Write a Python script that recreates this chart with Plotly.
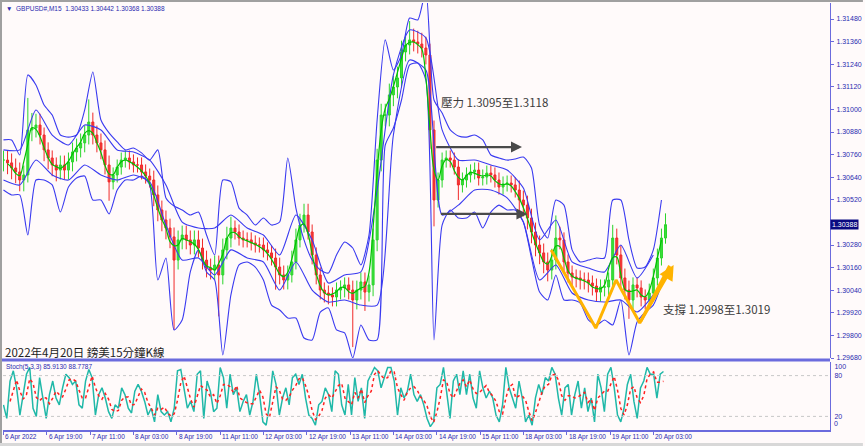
import numpy as np
import plotly.graph_objects as go

# ---------------- data ----------------
BAR_STEP = 6          # M15 bars between plotted candles
PIP = 0.0001
closes = [
    1.30731, 1.30716, 1.30689, 1.30668, 1.30625, 1.30652, 1.30891, 1.30901, 1.30917, 1.30864,
    1.30785, 1.30742, 1.30705, 1.30678, 1.30705, 1.30678, 1.30721, 1.30774, 1.30795, 1.30822,
    1.30864, 1.30933, 1.30864, 1.30822, 1.30785, 1.30705, 1.30615, 1.30652, 1.30694, 1.30731,
    1.30742, 1.30721, 1.30705, 1.30705, 1.30668, 1.30646, 1.30625, 1.30546, 1.30466, 1.30413,
    1.30370, 1.30323, 1.30200, 1.30307, 1.30333, 1.30307, 1.30280, 1.30307, 1.30264, 1.30200,
    1.30158, 1.30147, 1.30174, 1.30121, 1.30254, 1.30317, 1.30370, 1.30349, 1.30317, 1.30307,
    1.30307, 1.30291, 1.30280, 1.30280, 1.30254, 1.30238, 1.30211, 1.30163, 1.30121, 1.30094,
    1.30121, 1.30190, 1.30307, 1.30386, 1.30439, 1.30349, 1.30227, 1.30121, 1.30041, 1.30025,
    1.30015, 1.30004, 1.30041, 1.30052, 1.30068, 1.30041, 1.29988, 1.30041, 1.30084, 1.30030,
    1.30068, 1.30307, 1.30731, 1.30970, 1.30970, 1.31077, 1.31119, 1.31167, 1.31305, 1.31342,
    1.31369, 1.31358, 1.31347, 1.31326, 1.31289, 1.30891, 1.30519, 1.30625, 1.30731, 1.30742,
    1.30731, 1.30694, 1.30599, 1.30625, 1.30652, 1.30668, 1.30678, 1.30636, 1.30641, 1.30662,
    1.30652, 1.30625, 1.30588, 1.30604, 1.30609, 1.30599, 1.30572, 1.30519, 1.30492, 1.30423,
    1.30349, 1.30280, 1.30238, 1.30190, 1.30147, 1.30200, 1.30317, 1.30307, 1.30190, 1.30131,
    1.30110, 1.30105, 1.30094, 1.30094, 1.30078, 1.30062, 1.30030, 1.30057, 1.30057, 1.30094,
    1.30317, 1.30227, 1.30105, 1.30041, 1.29988, 1.30068, 1.30052, 1.30004, 1.29988, 1.30025,
    1.30105, 1.30211, 1.30317, 1.30388,
]
# upper / lower shadow lengths of each candle, in pips
wick_up = [
    5, 5, 5, 5, 5, 5, 17, 8, 6, 6, 4, 4, 4, 4, 5, 5, 5, 5, 5, 5,
    5, 12, 5, 5, 5, 5, 5, 4, 4, 4, 4, 4, 4, 4, 4, 4, 4, 5, 5, 5,
    5, 5, 5, 5, 5, 5, 5, 5, 5, 5, 5, 5, 5, 5, 6, 6, 6, 4, 4, 4,
    4, 4, 4, 4, 4, 4, 4, 5, 5, 5, 5, 6, 6, 6, 6, 6, 4, 4, 4, 4,
    4, 4, 4, 4, 4, 4, 5, 5, 5, 5, 5, 6, 6, 6, 6, 6, 6, 6, 6, 6,
    10, 6, 6, 6, 6, 6, 5, 4, 4, 4, 4, 4, 4, 4, 4, 4, 4, 4, 4, 4,
    4, 4, 4, 4, 4, 4, 4, 5, 5, 5, 5, 5, 5, 5, 5, 6, 12, 6, 4, 4,
    4, 4, 4, 4, 4, 4, 4, 4, 4, 4, 7, 5, 5, 5, 5, 4, 4, 4, 4, 5,
    5, 5, 5, 6,
]
wick_down = [
    6, 6, 6, 6, 6, 6, 4, 6, 5, 5, 6, 6, 6, 6, 5, 5, 5, 5, 5, 5,
    5, 5, 5, 5, 5, 5, 10, 4, 4, 4, 4, 4, 4, 4, 4, 4, 4, 6, 6, 6,
    6, 6, 37, 5, 5, 5, 5, 5, 5, 5, 5, 5, 5, 22, 5, 5, 5, 4, 4, 4,
    4, 4, 4, 4, 4, 4, 4, 12, 5, 5, 5, 4, 4, 4, 4, 4, 5, 5, 5, 5,
    5, 5, 5, 5, 5, 5, 25, 5, 5, 10, 5, 6, 6, 6, 6, 6, 6, 6, 5, 5,
    5, 5, 5, 5, 5, 10, 14, 4, 4, 4, 4, 4, 8, 4, 4, 4, 4, 4, 4, 4,
    4, 4, 4, 4, 4, 4, 4, 6, 6, 6, 6, 6, 6, 6, 6, 5, 5, 5, 5, 5,
    5, 5, 5, 5, 5, 5, 5, 5, 5, 5, 5, 5, 5, 5, 10, 5, 5, 5, 5, 4,
    4, 4, 4, 3,
]

OUTER_STEP = 12
outer_upper = [
    1.30838, 1.30838, 1.30758, 1.31183, 1.31130, 1.31023, 1.30970, 1.30864, 1.30853, 1.30864,
    1.30997, 1.31199, 1.30944, 1.30875, 1.30827, 1.30785, 1.30795, 1.30769, 1.30731, 1.30785,
    1.30530, 1.30487, 1.30466, 1.30439, 1.30455, 1.30333, 1.30227, 1.30625, 1.30615, 1.30476,
    1.30439, 1.30386, 1.30423, 1.30386, 1.30402, 1.30742, 1.30476, 1.30307, 1.30200, 1.30147,
    1.30131, 1.30227, 1.30296, 1.30264, 1.30174, 1.30333, 1.30944, 1.31369, 1.31209, 1.31289,
    1.31485, 1.31475, 1.31634, 1.31050, 1.30981, 1.30891, 1.30859, 1.30853, 1.30864, 1.30838,
    1.30758, 1.30742, 1.30731, 1.30737, 1.30747, 1.30689, 1.30386, 1.30317, 1.30519, 1.30492,
    1.30254, 1.30190, 1.30200, 1.30211, 1.30211, 1.30519, 1.30519, 1.30307, 1.30158, 1.30163,
    1.30254, 1.30519,
]
outer_lower = [
    1.30572, 1.30546, 1.30546, 1.30333, 1.30625, 1.30625, 1.30599, 1.30455, 1.30588, 1.30636,
    1.30646, 1.30519, 1.30519, 1.30445, 1.30572, 1.30625, 1.30625, 1.30646, 1.30599, 1.30094,
    1.30211, 1.29829, 1.29882, 1.30137, 1.30254, 1.30137, 1.30094, 1.29696, 1.30015, 1.30174,
    1.30190, 1.30163, 1.30094, 1.29961, 1.29935, 1.29892, 1.29892, 1.29786, 1.29776, 1.29924,
    1.29946, 1.29829, 1.29813, 1.29680, 1.29855, 1.29776, 1.29776, 1.30811, 1.30901, 1.31050,
    1.31236, 1.31246, 1.31156, 1.29776, 1.30386, 1.30466, 1.30423, 1.30423, 1.30455, 1.30370,
    1.30455, 1.30492, 1.30466, 1.30466, 1.30402, 1.30211, 1.30030, 1.29988, 1.30121, 1.29988,
    1.29988, 1.29972, 1.29882, 1.29855, 1.29882, 1.29855, 1.29988, 1.29696, 1.29871, 1.29924,
    1.29961, 1.30068,
]

INNER_STEP = 24
inner_upper = [
    1.30785, 1.30785, 1.30997, 1.30864, 1.30811, 1.30917, 1.30891, 1.30785, 1.30774, 1.30731,
    1.30599, 1.30402, 1.30370, 1.30370, 1.30439, 1.30370, 1.30333, 1.30227, 1.30439, 1.30307,
    1.30078, 1.30121, 1.30137, 1.30572, 1.31183, 1.31422, 1.31380, 1.30891, 1.30731, 1.30731,
    1.30705, 1.30678, 1.30583, 1.30307, 1.30413, 1.30190, 1.30158, 1.30137, 1.30280, 1.30105,
    1.30227,
]
inner_lower = [
    1.30625, 1.30599, 1.30731, 1.30652, 1.30625, 1.30705, 1.30652, 1.30625, 1.30652, 1.30615,
    1.30386, 1.30200, 1.30211, 1.30121, 1.30254, 1.30211, 1.30190, 1.30041, 1.30190, 1.30041,
    1.29977, 1.29988, 1.29961, 1.29961, 1.30864, 1.31262, 1.31209, 1.30439, 1.30492, 1.30572,
    1.30572, 1.30530, 1.30402, 1.30094, 1.30174, 1.30025, 1.29988, 1.29977, 1.29988, 1.29924,
    1.30015,
]

STOCH_LAST_BAR = 975
stoch_main = [
    37, 17, 72, 87, 62, 22, 52, 82, 92, 32, 20, 77, 47, 17, 52, 72, 47, 37, 62, 82,
    77, 67, 72, 37, 32, 72, 89, 77, 22, 52, 62, 47, 27, 17, 37, 32, 62, 52, 32, 25,
    57, 67, 57, 42, 22, 32, 12, 52, 27, 22, 27, 12, 32, 87, 89, 62, 32, 42, 27, 82,
    87, 17, 72, 57, 27, 32, 92, 77, 32, 82, 52, 62, 27, 42, 52, 22, 42, 82, 52, 12,
    7, 37, 87, 67, 22, 47, 62, 37, 77, 82, 67,
    82, 47, 22, 17, 7, 37, 42, 62, 52, 27, 87, 82, 37, 22, 67, 22, 77, 42, 62, 17,
    72, 82, 92, 87, 62, 77, 92, 92, 72, 22, 62, 47, 57, 82, 52, 42, 52, 37, 17, 5,
    12, 62, 67, 92, 52, 17, 72, 82, 52, 87, 52, 82, 47, 32, 87, 62, 47, 57, 47, 22,
    12, 37, 92, 62, 47, 32, 72, 47, 12, 22, 7, 47, 67, 52, 77, 72, 92, 82, 47, 22,
    62, 67, 22, 52, 72, 32, 62, 27, 47, 12,
    82, 62, 27, 82, 92, 62, 22, 12, 32, 67, 82, 42, 17, 62, 72, 92, 82, 82, 47, 82, 86,
]

TICK_EVERY = 64
tick_labels = ["6 Apr 2022", "6 Apr 19:00", "7 Apr 11:00", "8 Apr 03:00", "8 Apr 19:00",
               "11 Apr 11:00", "12 Apr 03:00", "12 Apr 19:00", "13 Apr 11:00", "14 Apr 03:00",
               "14 Apr 19:00", "15 Apr 11:00", "18 Apr 03:00", "18 Apr 19:00", "19 Apr 11:00",
               "20 Apr 03:00"]
price_ticks = [1.29680, 1.29800, 1.29920, 1.30040, 1.30160, 1.30280, 1.30520,
               1.30640, 1.30760, 1.30880, 1.31000, 1.31120, 1.31240, 1.31360, 1.31480]
stoch_level_labels = ["100", "80", "20"]
stoch_zero_label = "0"

header_text = "▼  GBPUSD#,M15  1.30433 1.30442 1.30368 1.30388"
stoch_text = "Stoch(5,3,3) 85.9130 88.7787"
title_text = "2022年4月20日 鎊美15分鐘K線"
resist_text = "壓力 1.3095至1.3118"
support_text = "支撐 1.2998至1.3019"
last_price = 1.30388

# annotation drawings (bar index, price)
resist_arrows = [((637, 1.30800), (766, 1.30800)), ((644, 1.30445), (774, 1.30445))]
support_path_x = [809, 875, 905, 940, 990]
support_path_y = [1.30254, 1.29839, 1.30094, 1.29866, 1.30174]

# ---------------- geometry ----------------
W, H = 865, 446
L, R, T, B = 3, 33, 3, 16
PW, PH = W - L - R, H - T - B


def px(x):
    return (x - L) / PW


def py(y):
    return (H - B - y) / PH


X_RANGE = [-0.7, 1221]
Y_RANGE = [1.29680, 1.31565]

BG = "#FFFAFA"
AX = "#6B6BDD"
TXT = "#2A2AB0"
FONT = "Liberation Sans"
CJK = "Noto Sans CJK TC"

# ---------------- traces ----------------
n = len(closes)
xc = np.arange(n) * BAR_STEP
opens = [closes[0]] + closes[:-1]
highs = np.maximum(opens, closes) + np.array(wick_up) * PIP
lows = np.minimum(opens, closes) - np.array(wick_down) * PIP
ma = np.convolve(closes, np.ones(3) / 3, mode="valid")

fig = go.Figure()

band_line = dict(color="#3A3AF0", width=1.1, shape="spline", smoothing=0.6)
for xs, ys in ((np.arange(len(outer_upper)) * OUTER_STEP, outer_upper),
               (np.arange(len(outer_lower)) * OUTER_STEP, outer_lower),
               (np.arange(len(inner_upper)) * INNER_STEP, inner_upper),
               (np.arange(len(inner_lower)) * INNER_STEP, inner_lower)):
    fig.add_trace(go.Scatter(x=xs, y=ys, mode="lines", line=band_line,
                             xaxis="x", yaxis="y", hoverinfo="skip"))

fig.add_trace(go.Candlestick(x=xc, open=opens, high=highs, low=lows, close=closes,
                             increasing=dict(line=dict(color="#2BD42B", width=1), fillcolor="#3BE03B"),
                             decreasing=dict(line=dict(color="#F02A2A", width=1), fillcolor="#F23A3A"),
                             whiskerwidth=0, xaxis="x", yaxis="y", hoverinfo="skip"))
fig.add_trace(go.Scatter(x=xc[1:-1], y=ma, mode="lines",
                         line=dict(color="#00C000", width=1.2, shape="spline"),
                         xaxis="x", yaxis="y", hoverinfo="skip"))

fig.add_trace(go.Scatter(x=support_path_x[:-1] + [support_path_x[-1] - 6],
                         y=support_path_y[:-1] + [support_path_y[-1] - 0.00004],
                         mode="lines", line=dict(color="#FFB300", width=3),
                         xaxis="x", yaxis="y", hoverinfo="skip"))

sx = np.linspace(0, STOCH_LAST_BAR, len(stoch_main))
sig = np.convolve(stoch_main, np.ones(3) / 3, mode="valid")
fig.add_trace(go.Scatter(x=sx, y=stoch_main, mode="lines",
                         line=dict(color="#20B8A8", width=1.5),
                         xaxis="x2", yaxis="y2", hoverinfo="skip"))
fig.add_trace(go.Scatter(x=sx[2:], y=sig, mode="lines",
                         line=dict(color="#FF2020", width=1.5, dash="dot"),
                         xaxis="x2", yaxis="y2", hoverinfo="skip"))

# ---------------- layout ----------------
main_dom = [py(358), 1]
stoch_dom = [0, py(362)]
tickvals = [i * TICK_EVERY for i in range(len(tick_labels))]
stoch_label_pos = [94, 80, 20]

fig.update_layout(
    width=W, height=H, margin=dict(l=L, r=R, t=T, b=B),
    paper_bgcolor=BG, plot_bgcolor=BG, showlegend=False,
    font=dict(family=FONT, size=7, color=TXT),
    xaxis=dict(domain=[0, 1], range=X_RANGE, anchor="y", showgrid=False, zeroline=False,
               showticklabels=False, rangeslider=dict(visible=False), showline=False),
    yaxis=dict(domain=main_dom, range=Y_RANGE, side="right", anchor="x", showgrid=False,
               zeroline=False, tickvals=price_ticks, tickformat=".5f", ticks="outside",
               ticklen=3, tickcolor=AX, tickfont=dict(size=7, color=TXT, family=FONT),
               ticklabelstandoff=1, showline=True, linecolor=AX, linewidth=1),
    xaxis2=dict(domain=[0, 1], range=X_RANGE, anchor="y2", showgrid=False, zeroline=False,
                tickvals=tickvals, showticklabels=False, ticks="outside", ticklen=3,
                tickcolor=AX, showline=True, linecolor=AX, linewidth=1.5),
    yaxis2=dict(domain=stoch_dom, range=[0, 100], side="right", anchor="x2", showgrid=False,
                zeroline=False, tickvals=stoch_label_pos, ticktext=stoch_level_labels,
                ticks="", ticklabelstandoff=2, tickfont=dict(size=7, color=TXT, family=FONT),
                showline=True, linecolor=AX, linewidth=1),
)

shapes = []
for lvl in (80, 20):
    shapes.append(dict(type="line", xref="x2", yref="y2", x0=X_RANGE[0], x1=X_RANGE[1],
                       y0=lvl, y1=lvl, line=dict(color="#C8C8C8", width=1, dash="dot")))
shapes.append(dict(type="line", xref="paper", yref="paper", x0=px(0), x1=1, y0=py(360), y1=py(360),
                   line=dict(color=AX, width=3)))
shapes.append(dict(type="line", xref="paper", yref="paper", x0=px(1), x1=px(1), y0=py(446), y1=py(0),
                   line=dict(color="#A0A0A0", width=2)))
shapes.append(dict(type="line", xref="paper", yref="paper", x0=px(0), x1=px(865), y0=py(1), y1=py(1),
                   line=dict(color="#A0A0A0", width=2)))
shapes.append(dict(type="rect", xref="paper", yref="paper", x0=px(0), x1=px(865), y0=py(446), y1=py(443),
                   fillcolor="#D8D8D8", line=dict(width=0)))
fig.update_layout(shapes=shapes)

ann = []
for (x0, y0), (x1, y1) in resist_arrows:
    ann.append(dict(x=x1, y=y1, ax=x0, ay=y0, xref="x", yref="y", axref="x", ayref="y",
                    showarrow=True, arrowhead=2, arrowsize=1, arrowwidth=2.2, arrowcolor="#4A4A4A",
                    text=""))
ann.append(dict(x=support_path_x[-1], y=support_path_y[-1], ax=support_path_x[-2], ay=support_path_y[-2],
                xref="x", yref="y", axref="x", ayref="y", showarrow=True, arrowhead=2,
                arrowsize=1, arrowwidth=3, arrowcolor="#FFB300", text="", standoff=0))
ann.append(dict(x=px(440), y=py(102), xref="paper", yref="paper", text=resist_text, showarrow=False,
                xanchor="left", yanchor="middle", font=dict(family=CJK, size=11.5, color="#3C3C3C")))
ann.append(dict(x=px(663), y=py(309), xref="paper", yref="paper", text=support_text, showarrow=False,
                xanchor="left", yanchor="middle", font=dict(family=CJK, size=11.5, color="#3C3C3C")))
ann.append(dict(x=px(3), y=py(352), xref="paper", yref="paper", text=title_text, showarrow=False,
                xanchor="left", yanchor="middle", font=dict(family=CJK, size=11.5, color="#222222")))
ann.append(dict(x=px(4), y=py(8), xref="paper", yref="paper", text=header_text, showarrow=False,
                xanchor="left", yanchor="middle", font=dict(family=FONT, size=6.5, color=TXT)))
ann.append(dict(x=px(4), y=py(367), xref="paper", yref="paper", text=stoch_text, showarrow=False,
                xanchor="left", yanchor="middle", font=dict(family=FONT, size=6.5, color=TXT)))
ann.append(dict(x=1, y=last_price, xref="paper", yref="y", text=f"{last_price:.5f}", showarrow=False,
                xanchor="left", yanchor="middle", xshift=0, bgcolor="#0A0A80", borderpad=1,
                font=dict(family=FONT, size=7, color="#FFFFFF")))
ann.append(dict(x=1, y=0, xref="paper", yref="paper", text=stoch_zero_label, showarrow=False,
                xanchor="left", yanchor="bottom", xshift=2, yshift=1,
                font=dict(family=FONT, size=7, color=TXT)))
for tv, lab in zip(tickvals, tick_labels):
    ann.append(dict(x=tv, y=py(437), xref="x2", yref="paper", text=lab, showarrow=False,
                    xanchor="left", yanchor="middle", xshift=0, font=dict(family=FONT, size=6.5, color=TXT)))
fig.update_layout(annotations=ann)

fig.write_html("out.html", config={"displayModeBar": False},
               post_script="document.body.style.margin='0';document.body.style.overflow='hidden';")
